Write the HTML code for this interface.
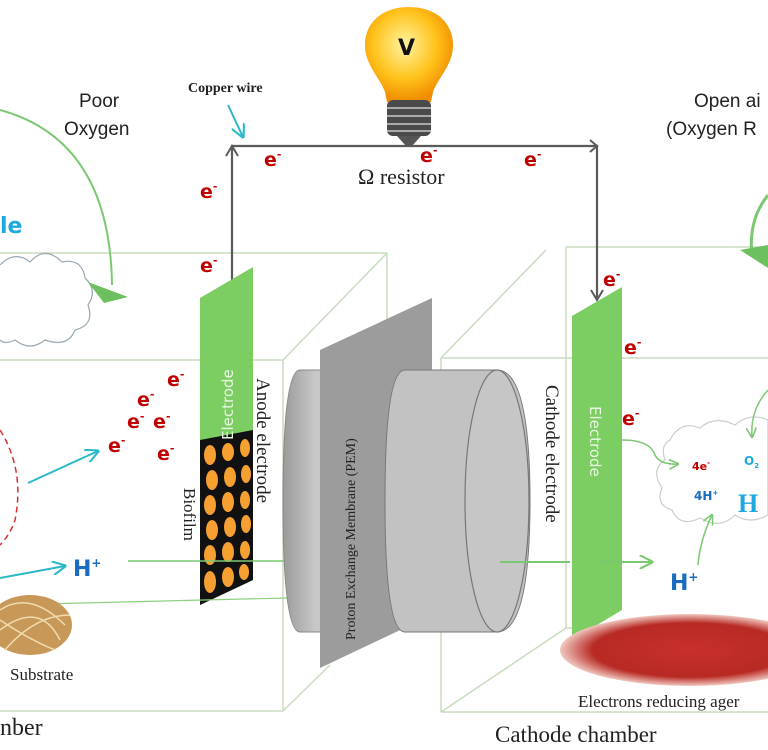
<!DOCTYPE html>
<html><head><meta charset="utf-8"><style>
html,body{margin:0;padding:0;background:#fff;width:768px;height:750px;overflow:hidden}
svg{display:block}
.e{font-family:"DejaVu Sans","Liberation Sans",sans-serif;font-weight:bold;fill:#c00000;font-size:19px}
.s{font-family:"Liberation Serif",serif;fill:#222}
.g{font-family:"Liberation Sans",sans-serif;fill:#222}
</style></head><body>
<svg width="768" height="750" viewBox="0 0 768 750" xmlns="http://www.w3.org/2000/svg">
<defs>
<radialGradient id="bulb" cx="0.45" cy="0.4" r="0.6"><stop offset="0" stop-color="#fff3a0"/><stop offset="0.6" stop-color="#ffc21a"/><stop offset="1" stop-color="#f08c00"/></radialGradient>
<linearGradient id="cyl" x1="0" x2="1"><stop offset="0" stop-color="#9a9a9a"/><stop offset="0.3" stop-color="#c8c8c8"/><stop offset="1" stop-color="#b4b4b4"/></linearGradient>
<radialGradient id="red" cx="0.5" cy="0.5" r="0.5"><stop offset="0" stop-color="#c8302a"/><stop offset="0.75" stop-color="#b82a24"/><stop offset="1" stop-color="#f0c8c0"/></radialGradient>
<marker id="ag" viewBox="0 0 10 10" refX="9" refY="5" markerWidth="7" markerHeight="7" orient="auto"><path d="M0,0 L10,5 L0,10" fill="none" stroke="#7cc872" stroke-width="1.5"/></marker>
<marker id="ac" viewBox="0 0 10 10" refX="9" refY="5" markerWidth="7" markerHeight="7" orient="auto"><path d="M0,0 L10,5 L0,10" fill="none" stroke="#2bb8c8" stroke-width="1.5"/></marker>
</defs>

<!-- left box -->
<g stroke="#c8dcc0" stroke-width="1.5" fill="none">
<line x1="0" y1="253" x2="387" y2="253"/>
<line x1="387" y1="253" x2="387" y2="600"/>
<line x1="0" y1="360" x2="283" y2="360"/>
<line x1="283" y1="360" x2="283" y2="711"/>
<line x1="283" y1="360" x2="387" y2="253"/>
<line x1="0" y1="711" x2="283" y2="711"/>
<line x1="283" y1="711" x2="330" y2="665"/>
</g>
<!-- right box -->
<g stroke="#c8dcc0" stroke-width="1.5" fill="none">
<line x1="566" y1="247" x2="768" y2="247"/>
<line x1="566" y1="247" x2="566" y2="628"/>
<line x1="441" y1="358" x2="768" y2="358"/>
<line x1="441" y1="358" x2="441" y2="712"/>
<line x1="441" y1="358" x2="546" y2="250"/>
<line x1="441" y1="712" x2="768" y2="712"/>
<line x1="441" y1="712" x2="566" y2="628"/>
<line x1="566" y1="628" x2="768" y2="628"/>
</g>

<!-- left cloud -->
<path d="M0,265 Q15,250 30,262 Q45,245 62,262 Q82,258 85,278 Q98,290 88,305 Q95,325 75,330 Q68,348 45,340 Q30,352 15,340 Q5,345 0,340" fill="none" stroke="#9aa8b4" stroke-width="1.2"/>
<path d="M0,110 Q110,140 112,285" fill="none" stroke="#7cc872" stroke-width="2"/>
<polygon points="88,282 128,297 104,303" fill="#6cc05e"/>
<text x="0" y="233" font-family="DejaVu Sans,sans-serif" font-weight="bold" font-size="22" fill="#1ea8e0">le</text>
<text class="g" x="79" y="107" font-size="19">Poor</text>
<text class="g" x="64" y="135" font-size="19">Oxygen</text>

<path d="M768,195 Q748,220 752,255" fill="none" stroke="#7cc872" stroke-width="3"/>
<polygon points="740,250 768,245 768,268" fill="#6cc05e"/>
<text class="g" x="694" y="107" font-size="19">Open ai</text>
<text class="g" x="666" y="135" font-size="19">(Oxygen R</text>

<!-- wire -->
<path d="M232,300 L232,146 L597,146 L597,300" fill="none" stroke="#5a5a5a" stroke-width="2.2"/>
<polyline points="226,156 232,146 238,156" fill="none" stroke="#5a5a5a" stroke-width="2"/>
<polyline points="590,140 597,146 590,152" fill="none" stroke="#5a5a5a" stroke-width="2"/>
<polyline points="591,290 597,300 603,290" fill="none" stroke="#5a5a5a" stroke-width="2"/>
<text x="188" y="92" font-family="Liberation Serif,serif" font-weight="bold" font-size="14" fill="#222">Copper wire</text>
<line x1="228" y1="105" x2="243" y2="137" stroke="#2bb8c8" stroke-width="2" marker-end="url(#ac)"/>
<text class="s" x="358" y="184" font-size="22">Ω resistor</text>

<!-- bulb -->
<path d="M409,7 C438,7 454,25 453,47 C452,66 438,78 433,92 L431,102 L387,102 L385,92 C380,78 366,66 365,47 C364,25 380,7 409,7 Z" fill="url(#bulb)"/>
<rect x="387" y="100" width="44" height="36" rx="6" fill="#4a4a4a"/>
<g stroke="#aaa" stroke-width="2"><line x1="387" y1="108" x2="431" y2="108"/><line x1="387" y1="116" x2="431" y2="116"/><line x1="387" y1="124" x2="431" y2="124"/><line x1="387" y1="131" x2="431" y2="131"/></g>
<path d="M397,136 L421,136 L412,146 L406,146 Z" fill="#555"/>
<text x="398" y="55" font-family="DejaVu Sans,sans-serif" font-weight="bold" font-size="22" fill="#111">V</text>

<g class="e">
<text x="264" y="166">e<tspan font-size="11" dy="-8">-</tspan></text>
<text x="420" y="162">e<tspan font-size="11" dy="-8">-</tspan></text>
<text x="524" y="166">e<tspan font-size="11" dy="-8">-</tspan></text>
<text x="200" y="198">e<tspan font-size="11" dy="-8">-</tspan></text>
<text x="200" y="272">e<tspan font-size="11" dy="-8">-</tspan></text>
<text x="603" y="286">e<tspan font-size="11" dy="-8">-</tspan></text>
<text x="624" y="354">e<tspan font-size="11" dy="-8">-</tspan></text>
<text x="622" y="425">e<tspan font-size="11" dy="-8">-</tspan></text>
<text x="167" y="386">e<tspan font-size="11" dy="-8">-</tspan></text>
<text x="137" y="406">e<tspan font-size="11" dy="-8">-</tspan></text>
<text x="127" y="428">e<tspan font-size="11" dy="-8">-</tspan></text>
<text x="153" y="428">e<tspan font-size="11" dy="-8">-</tspan></text>
<text x="108" y="452">e<tspan font-size="11" dy="-8">-</tspan></text>
<text x="157" y="460">e<tspan font-size="11" dy="-8">-</tspan></text>
</g>

<!-- anode electrode -->
<polygon points="200,298 253,267 253,580 200,605" fill="#7ccd62"/>
<path d="M200,440 L253,430 L253,580 L200,605 Z" fill="#111"/>
<g fill="#f5a030">
<ellipse cx="210" cy="455" rx="6" ry="10"/><ellipse cx="228" cy="452" rx="6" ry="9"/><ellipse cx="245" cy="448" rx="5" ry="9"/>
<ellipse cx="212" cy="480" rx="6" ry="10"/><ellipse cx="230" cy="477" rx="6" ry="10"/><ellipse cx="246" cy="474" rx="5" ry="9"/>
<ellipse cx="210" cy="505" rx="6" ry="10"/><ellipse cx="228" cy="502" rx="6" ry="10"/><ellipse cx="245" cy="500" rx="5" ry="9"/>
<ellipse cx="212" cy="530" rx="6" ry="10"/><ellipse cx="230" cy="527" rx="6" ry="10"/><ellipse cx="246" cy="524" rx="5" ry="9"/>
<ellipse cx="210" cy="555" rx="6" ry="10"/><ellipse cx="228" cy="552" rx="6" ry="10"/><ellipse cx="245" cy="550" rx="5" ry="9"/>
<ellipse cx="210" cy="582" rx="6" ry="11"/><ellipse cx="228" cy="577" rx="6" ry="10"/><ellipse cx="244" cy="572" rx="5" ry="8"/>
</g>
<text x="0" y="0" transform="translate(233,440) rotate(-90)" font-family="DejaVu Sans,sans-serif" font-size="15" fill="#e8f8e0">Electrode</text>
<text class="s" x="0" y="0" transform="translate(257,378) rotate(90)" font-size="19">Anode electrode</text>
<text class="s" x="0" y="0" transform="translate(184,488) rotate(90)" font-size="17">Biofilm</text>

<path d="M0,430 Q25,470 15,520 Q10,535 0,545" fill="none" stroke="#d83030" stroke-width="1.5" stroke-dasharray="6,4"/>
<line x1="28" y1="483" x2="98" y2="451" stroke="#2bb8c8" stroke-width="2" marker-end="url(#ac)"/>
<line x1="0" y1="578" x2="65" y2="566" stroke="#2bb8c8" stroke-width="2" marker-end="url(#ac)"/>
<text x="73" y="576" font-family="DejaVu Sans,sans-serif" font-weight="bold" font-size="22" fill="#1a6cc0">H<tspan font-size="12" dy="-9">+</tspan></text>
<line x1="128" y1="561" x2="285" y2="561" stroke="#7cc872" stroke-width="1.5"/>
<line x1="0" y1="605" x2="287" y2="598" stroke="#8ed080" stroke-width="1.2"/>
<ellipse cx="30" cy="625" rx="42" ry="30" fill="#c89858"/>
<g stroke="#f0dcb0" stroke-width="1.5" fill="none"><path d="M0,610 Q30,590 65,625"/><path d="M0,630 Q40,600 60,640"/><path d="M5,650 Q35,615 70,615"/><path d="M0,620 Q30,640 55,650"/></g>
<text class="s" x="10" y="680" font-size="17">Substrate</text>
<text class="s" x="0" y="735" font-size="24">nber</text>

<!-- PEM -->
<path d="M300,370 L392,370 L392,632 L300,632 Q283,632 283,501 Q283,370 300,370 Z" fill="url(#cyl)" stroke="#888" stroke-width="1"/>
<polygon points="320,350 432,298 432,615 320,668" fill="#9c9c9c"/>
<text x="0" y="0" transform="translate(355,640) rotate(-90)" font-family="Liberation Serif,serif" font-size="14" fill="#222">Proton Exchange Membrane (PEM)</text>
<path d="M405,370 L497,370 Q530,370 530,501 Q530,632 497,632 L405,632 Q385,632 385,501 Q385,370 405,370 Z" fill="#c2c2c2" stroke="#777" stroke-width="1"/>
<ellipse cx="497" cy="501" rx="32" ry="131" fill="#c6c6c6" stroke="#777" stroke-width="1.2"/>

<!-- cathode electrode -->
<polygon points="572,316 622,287 622,610 572,640" fill="#7ccd62"/>
<text x="0" y="0" transform="translate(590,406) rotate(90)" font-family="DejaVu Sans,sans-serif" font-size="15" fill="#e8f8e0">Electrode</text>
<text class="s" x="0" y="0" transform="translate(546,385) rotate(90)" font-size="19">Cathode electrode</text>
<line x1="500" y1="562" x2="570" y2="562" stroke="#7cc872" stroke-width="2"/>
<line x1="597" y1="562" x2="652" y2="562" stroke="#7cc872" stroke-width="2" marker-end="url(#ag)"/>

<path d="M670,440 Q680,420 700,428 Q715,415 735,425 Q750,412 768,420 L768,515 Q750,525 735,515 Q720,530 700,518 Q680,528 672,510 Q655,505 662,488 Q650,470 665,460 Q660,445 670,440 Z" fill="#fff" stroke="#c8d0c8" stroke-width="1.2"/>
<path d="M622,440 Q650,440 655,455 Q660,465 678,464" fill="none" stroke="#7cc872" stroke-width="1.5" marker-end="url(#ag)"/>
<path d="M768,390 Q750,410 752,437" fill="none" stroke="#7cc872" stroke-width="1.5" marker-end="url(#ag)"/>
<path d="M698,565 Q700,540 712,515" fill="none" stroke="#7cc872" stroke-width="1.5" marker-end="url(#ag)"/>
<text x="692" y="470" font-family="DejaVu Sans,sans-serif" font-weight="bold" font-size="11" fill="#c00000">4e<tspan font-size="7" dy="-5">-</tspan></text>
<text x="744" y="465" font-family="DejaVu Sans,sans-serif" font-weight="bold" font-size="12" fill="#1ea8e0">O<tspan font-size="7" dy="3">2</tspan></text>
<text x="694" y="500" font-family="DejaVu Sans,sans-serif" font-weight="bold" font-size="12" fill="#1a6cc0">4H<tspan font-size="7" dy="-5">+</tspan></text>
<text x="738" y="512" font-family="Liberation Serif,serif" font-weight="bold" font-size="26" fill="#1ea8e0">H</text>
<text x="670" y="590" font-family="DejaVu Sans,sans-serif" font-weight="bold" font-size="22" fill="#1a6cc0">H<tspan font-size="12" dy="-9">+</tspan></text>

<ellipse cx="690" cy="650" rx="130" ry="36" fill="url(#red)"/>
<text class="s" x="578" y="707" font-size="17">Electrons reducing ager</text>
<text class="s" x="495" y="742" font-size="23">Cathode chamber</text>
</svg>
</body></html>
